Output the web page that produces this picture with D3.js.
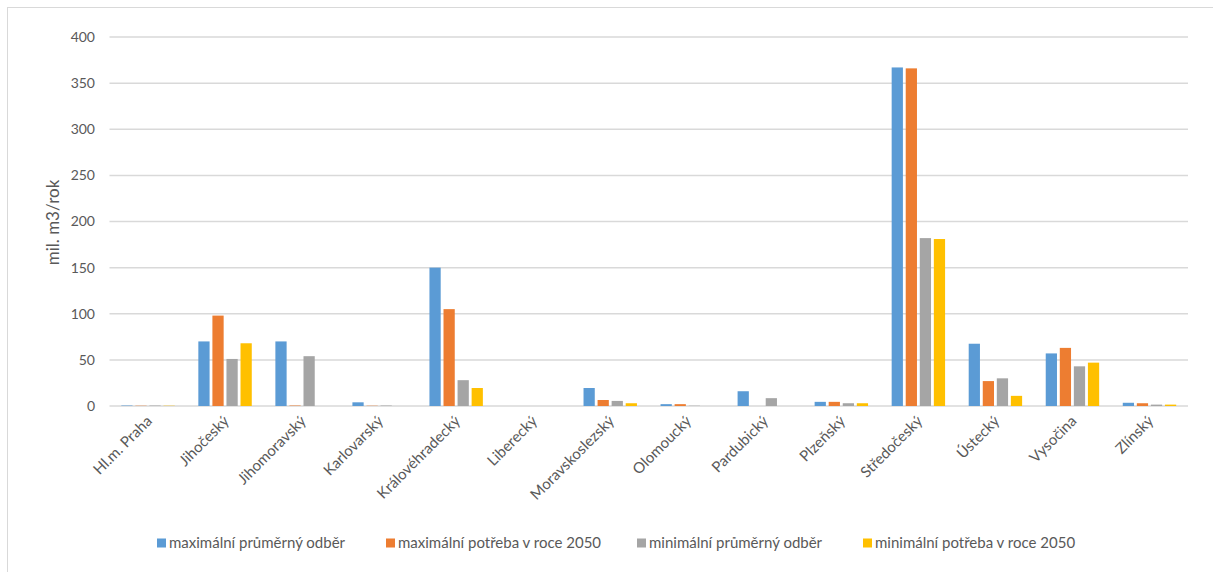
<!DOCTYPE html>
<html>
<head>
<meta charset="utf-8">
<script src="https://cdn.jsdelivr.net/npm/d3@7"></script>
<style>
  body { margin: 0; background: #fff; }
  text { font-family: Lato, "Open Sans", sans-serif; fill: #595959; }
</style>
</head>
<body>
<script>
// kraje
const regions = ["Hl.m. Praha", "Jihočeský", "Jihomoravský", "Karlovarský", "Královéhradecký",
  "Liberecký", "Moravskoslezský", "Olomoucký", "Pardubický", "Plzeňský", "Středočeský",
  "Ústecký", "Vysočina", "Zlínský"];

const seriesNames = ["maximální průměrný odběr", "maximální potřeba v roce 2050",
  "minimální průměrný odběr", "minimální potřeba v roce 2050"];
const colors = ["#5B9BD5", "#ED7D31", "#A5A5A5", "#FFC000"];

// mil. m3/rok
const maxOdber   = [0.5, 70, 70, 4, 150, 0, 19.5, 2, 16, 4.5, 367, 67.5, 57, 3.5];
const maxPotreba = [0.3, 98, 0.5, 0.3, 105, 0, 6.5, 2, 0, 4.5, 366, 27, 63, 3];
const minOdber   = [0.5, 51, 54, 0.5, 28, 0, 5.5, 0.3, 8.5, 3, 182, 30, 43, 1.5];
const minPotreba = [0.3, 68, 0, 0, 19.5, 0, 3, 0, 0, 3, 181, 11, 47, 1.5];

const yTicks = [0, 50, 100, 150, 200, 250, 300, 350, 400];

const width = 1213, height = 572;
const margin = {top: 37, right: 25, bottom: 166, left: 109.5};

const data = regions.map((r, i) => ({
  region: r,
  values: [maxOdber[i], maxPotreba[i], minOdber[i], minPotreba[i]]
}));

const svg = d3.select("body").append("svg")
    .attr("width", width)
    .attr("height", height);

// chart frame
svg.append("rect")
    .attr("x", 7.5).attr("y", 7.5)
    .attr("width", width + 20).attr("height", height + 20)
    .attr("fill", "none")
    .attr("stroke", "#d9d9d9");

const x0 = d3.scaleBand()
    .domain(regions)
    .range([margin.left, width - margin.right])
    .paddingInner(0.27)
    .paddingOuter(0.135);

const x1 = d3.scaleBand()
    .domain(d3.range(4))
    .range([0, x0.bandwidth()])
    .paddingInner(0.2)
    .paddingOuter(0.1);

const y = d3.scaleLinear()
    .domain([0, 400])
    .range([height - margin.bottom, margin.top]);

// gridlines
svg.append("g")
  .selectAll("line")
  .data(yTicks)
  .join("line")
    .attr("x1", margin.left)
    .attr("x2", width - margin.right)
    .attr("y1", d => y(d))
    .attr("y2", d => y(d))
    .attr("stroke", "#d9d9d9")
    .attr("stroke-width", 1.5);

// y tick labels
svg.append("g")
  .selectAll("text")
  .data(yTicks)
  .join("text")
    .attr("x", 95)
    .attr("y", d => y(d))
    .attr("dy", "0.35em")
    .attr("text-anchor", "end")
    .attr("font-size", 14)
    .text(d => d);

svg.append("text")
    .attr("transform", `translate(59,${(y(0) + y(400)) / 2 + 1}) rotate(-90)`)
    .attr("text-anchor", "middle")
    .attr("font-size", 17)
    .text("mil. m3/rok");

// bars
svg.append("g")
  .selectAll("g")
  .data(data)
  .join("g")
    .attr("transform", d => `translate(${x0(d.region)},0)`)
  .selectAll("rect")
  .data(d => d.values.map((v, k) => ({k, v})))
  .join("rect")
    .attr("x", d => x1(d.k))
    .attr("width", x1.bandwidth())
    .attr("y", d => y(d.v))
    .attr("height", d => y(0) - y(d.v))
    .attr("fill", d => colors[d.k]);

// x labels
svg.append("g")
  .selectAll("text")
  .data(regions)
  .join("text")
    .attr("transform", d => `translate(${x0(d) + x0.bandwidth() / 2 + 5},${y(0) + 16}) rotate(-45)`)
    .attr("text-anchor", "end")
    .attr("font-size", 15)
    .text(d => d);

// legend
const legendX = [157, 386, 637, 863];
const legend = svg.append("g")
  .selectAll("g")
  .data(seriesNames)
  .join("g")
    .attr("transform", (d, i) => `translate(${legendX[i]},543)`);

legend.append("rect")
    .attr("x", 0).attr("y", -4.5)
    .attr("width", 9).attr("height", 9)
    .attr("fill", (d, i) => colors[i]);

legend.append("text")
    .attr("x", 12)
    .attr("dy", "0.35em")
    .attr("font-size", 15)
    .text(d => d);
</script>
</body>
</html>
